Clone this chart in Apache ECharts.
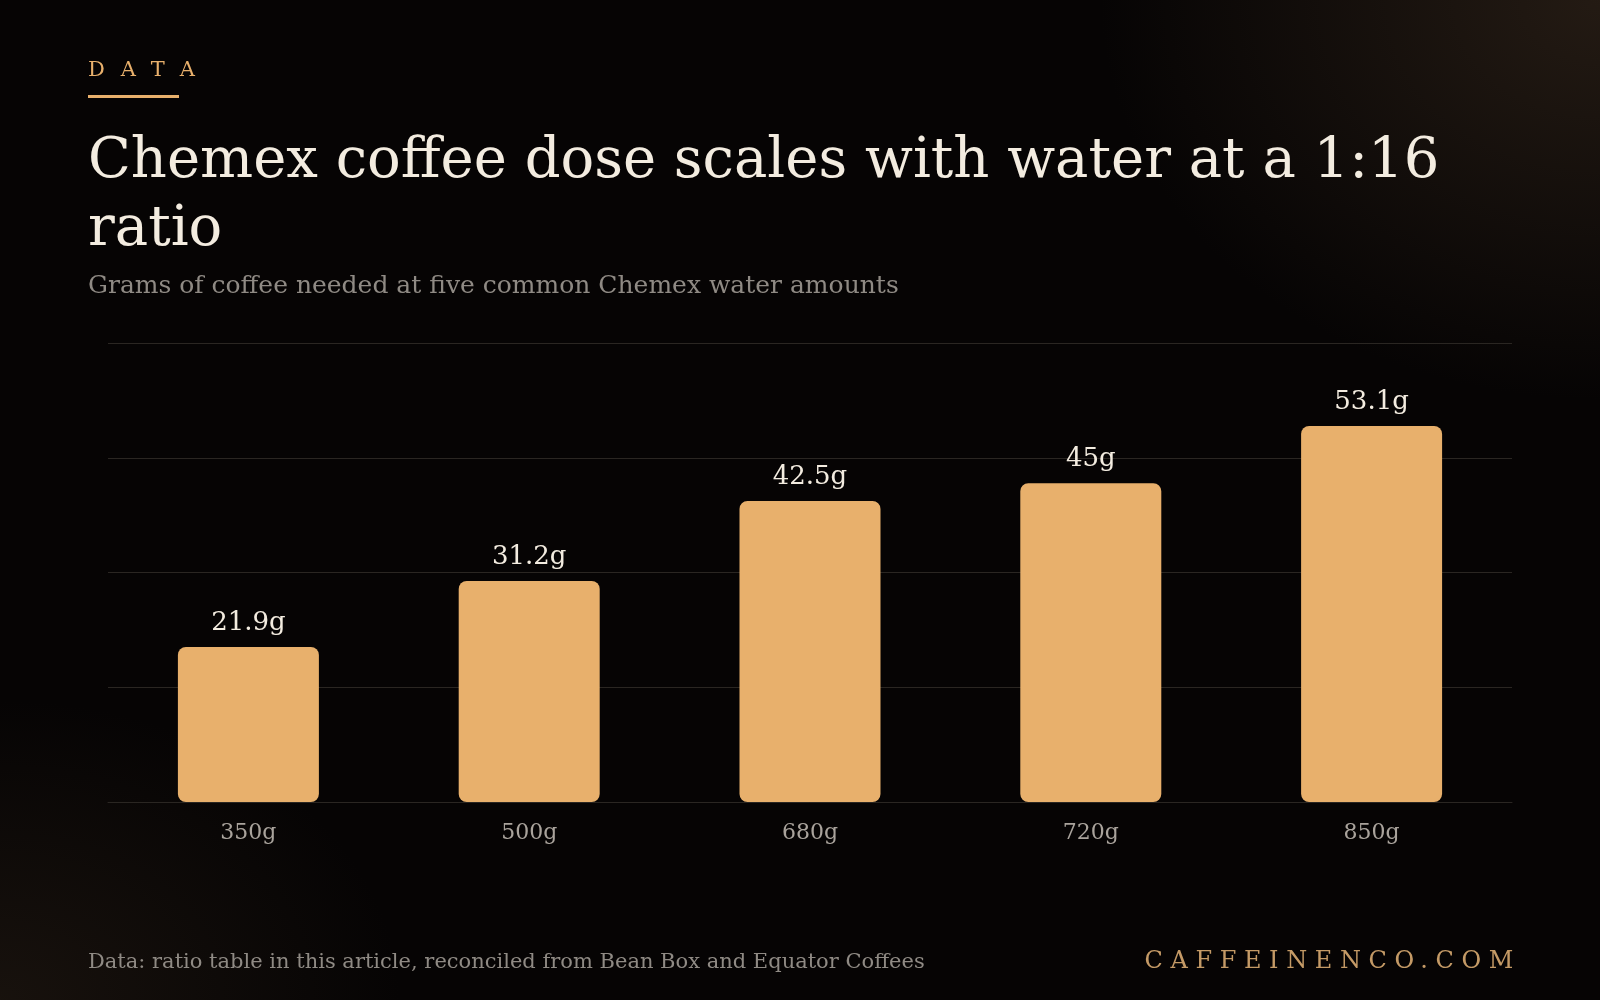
<!DOCTYPE html>
<html lang="en">
<head>
<meta charset="UTF-8">
<title>Chemex coffee dose</title>
<style>
  * { margin: 0; padding: 0; }
  html, body { width: 1600px; height: 1000px; overflow: hidden; }
  body {
    background:
      radial-gradient(ellipse 500px 400px at 100% 0%, rgba(60,45,32,0.55), rgba(0,0,0,0)),
      radial-gradient(ellipse 400px 300px at 0% 100%, rgba(45,34,24,0.45), rgba(0,0,0,0)),
      #060404;
    font-family: "DejaVu Serif", serif;
    position: relative;
  }
  .kicker { position: absolute; left: 88px; top: 57px; color: #e8b06c; font-size: 21px; letter-spacing: 16px; }
  .rule { position: absolute; left: 88px; top: 95px; width: 91px; height: 3px; background: #e8b06c; }
  h1 { position: absolute; left: 88px; top: 124px; width: 1460px; color: #f3ece0; font-weight: normal; font-size: 56px; line-height: 68px; }
  .sub { position: absolute; left: 88px; top: 270px; color: #8f8a84; font-size: 25px; }
  .src { position: absolute; left: 88px; top: 949px; color: #8f8a84; font-size: 21px; }
  .brand { position: absolute; right: 79px; top: 946px; color: #c49a66; font-size: 24px; letter-spacing: 7.6px; }
  #chart { position: absolute; left: 0; top: 0; width: 1600px; height: 1000px; }
</style>
</head>
<body>
<div id="chart"></div>
<div class="kicker">DATA</div>
<div class="rule"></div>
<h1>Chemex coffee dose scales with water at a 1:16 ratio</h1>
<div class="sub">Grams of coffee needed at five common Chemex water amounts</div>
<div class="src">Data: ratio table in this article, reconciled from Bean Box and Equator Coffees</div>
<div class="brand">CAFFEINENCO.COM</div>
<script src="https://cdn.jsdelivr.net/npm/echarts@6/dist/echarts.min.js"></script>
<script>
  const water = ['350g', '500g', '680g', '720g', '850g']
  const coffee = [21.9, 31.2, 42.5, 45, 53.1]

  const chart = echarts.init(document.getElementById('chart'))
  chart.setOption({
    backgroundColor: 'transparent',
    grid: { left: 108, right: 88, top: 343, bottom: 198 },
    xAxis: {
      type: 'category',
      data: water,
      axisLine: { lineStyle: { color: '#2a2622' } },
      axisTick: { show: false },
      axisLabel: { color: '#a9a39c', fontSize: 22, fontFamily: 'DejaVu Serif', margin: 20 }
    },
    yAxis: {
      type: 'value',
      min: 0,
      max: 64.8,
      interval: 16.2,
      axisLabel: { show: false },
      splitLine: { lineStyle: { color: '#2a2622' } }
    },
    series: [{
      type: 'bar',
      data: coffee,
      barWidth: 141,
      itemStyle: { color: '#e8b06c', borderRadius: 8 },
      label: {
        show: true,
        position: 'top',
        distance: 11,
        formatter: p => p.value + 'g',
        color: '#f3ece0',
        fontSize: 26,
        fontFamily: 'DejaVu Serif'
      }
    }]
  })
</script>
</body>
</html>
